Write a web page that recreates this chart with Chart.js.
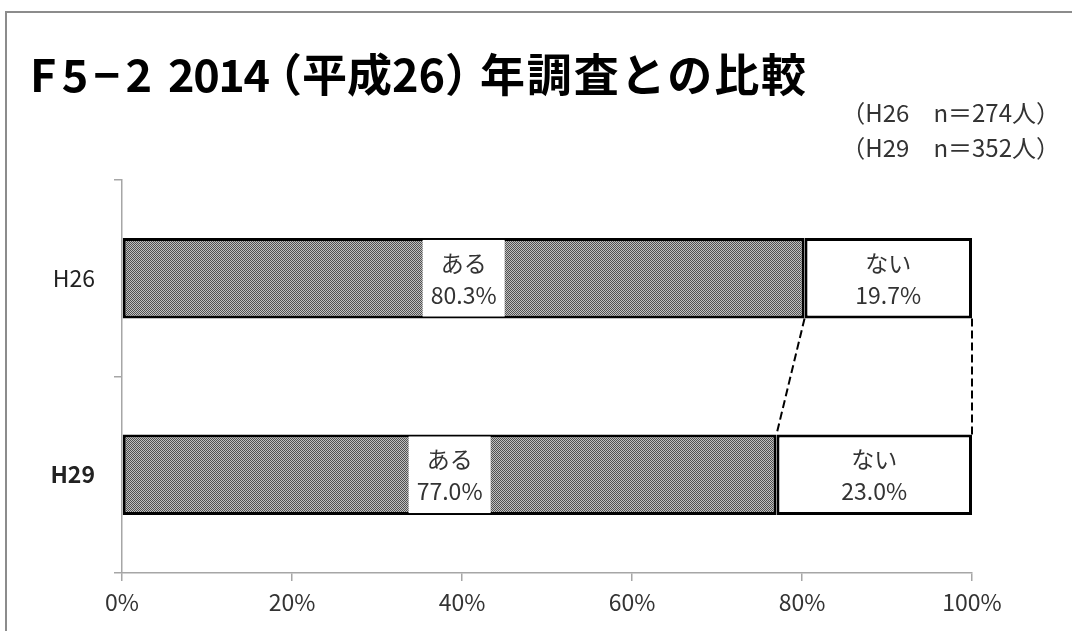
<!DOCTYPE html>
<html>
<head>
<meta charset="utf-8">
<script src="https://cdn.jsdelivr.net/npm/chart.js@4.4.0/dist/chart.umd.min.js"></script>
<style>
html,body{margin:0;padding:0;background:#fff;overflow:hidden}
</style>
</head>
<body>
<canvas id="cmpChart" width="1072" height="631"></canvas>
<script>
// survey years and answer shares (%)
const years = ["H26", "H29"]
const aruValues = [80.3, 77.0]
const naiValues = [19.7, 23.0]
const seriesNames = ["ある", "ない"]
const xTicks = [0, 20, 40, 60, 80, 100]
const titleParts = ["F5−2", "2014", "（平成26）", "年調査との比較"]
const sampleNotes = ["（H26　n＝274人）", "（H29　n＝352人）"]

const FONT = "'Noto Sans CJK JP', 'Noto Sans', sans-serif"
Chart.defaults.font.family = FONT

const canvas = document.getElementById("cmpChart")

// fine dotted fill for the "ある" bars
function dotPattern(){
  const c = document.createElement("canvas")
  c.width = 2
  c.height = 2
  const g = c.getContext("2d")
  g.fillStyle = "#c0c0c0"
  g.fillRect(0, 0, 2, 2)
  g.fillStyle = "#505050"
  g.fillRect(0, 0, 1, 1)
  g.fillRect(1, 1, 1, 1)
  return canvas.getContext("2d").createPattern(c, "repeat")
}

// fit a text run between x0 and x1
function fitText(ctx, text, x0, x1, y){
  const w = ctx.measureText(text).width
  const n = [...text].length
  ctx.letterSpacing = n > 1 ? ((x1 - x0 - w) / (n - 1)) + "px" : "0px"
  ctx.fillText(text, x0, y)
  ctx.letterSpacing = "0px"
}

// outer frame, title and sample sizes
const frame = {
  id: "frame",
  beforeDraw(chart){
    const ctx = chart.ctx
    ctx.save()
    ctx.strokeStyle = "#8c8c8c"
    ctx.lineWidth = 2
    ctx.strokeRect(6, 12, 1200, 800)

    ctx.fillStyle = "#000"
    ctx.font = "bold 45px " + FONT
    ctx.textAlign = "left"
    ctx.textBaseline = "alphabetic"
    fitText(ctx, titleParts[0], 30, 152, 92)
    fitText(ctx, titleParts[1], 168, 270, 92)
    ctx.fillText(titleParts[2], 257, 92)
    fitText(ctx, titleParts[3], 480, 806, 92)

    ctx.fillStyle = "#333"
    ctx.font = "24px " + FONT
    ctx.textAlign = "right"
    ctx.fillText(sampleNotes[0], 1060, 122)
    ctx.fillText(sampleNotes[1], 1060, 157)
    ctx.restore()
  }
}

// dashed connectors + labels inside bars
const barLabels = {
  id: "barLabels",
  afterDatasetsDraw(chart){
    const ctx = chart.ctx
    const m0 = chart.getDatasetMeta(0).data
    const m1 = chart.getDatasetMeta(1).data
    ctx.save()
    ctx.strokeStyle = "#000"
    ctx.lineWidth = 2
    ctx.setLineDash([8, 4])
    ;[m0, m1].forEach(m => {
      ctx.beginPath()
      ctx.moveTo(m[0].x, m[0].y + m[0].height / 2)
      ctx.lineTo(m[1].x, m[1].y - m[1].height / 2)
      ctx.stroke()
    })
    ctx.setLineDash([])

    ctx.font = "23px " + FONT
    ctx.textAlign = "center"
    ctx.textBaseline = "middle"
    chart.data.datasets.forEach((ds, di) => {
      chart.getDatasetMeta(di).data.forEach((bar, i) => {
        const cx = (bar.x + bar.base) / 2
        const cy = bar.y
        if (di === 0) {
          ctx.fillStyle = "#fff"
          ctx.fillRect(cx - 41, cy - bar.height / 2 + 2, 82, bar.height - 4)
        }
        ctx.fillStyle = "#333"
        ctx.fillText(seriesNames[di], cx, cy - 15)
        ctx.fillText(ds.data[i].toFixed(1) + "%", cx, cy + 17)
      })
    })
    ctx.restore()
  }
}

new Chart(canvas, {
  type: "bar",
  data: {
    labels: years,
    datasets: [
      {
        label: seriesNames[0],
        data: aruValues,
        backgroundColor: dotPattern(),
        borderColor: "#000",
        borderWidth: 3,
        borderSkipped: false
      },
      {
        label: seriesNames[1],
        data: naiValues,
        backgroundColor: "#fff",
        borderColor: "#000",
        borderWidth: 3,
        borderSkipped: false
      }
    ]
  },
  options: {
    indexAxis: "y",
    responsive: false,
    animation: false,
    barPercentage: 0.41,
    categoryPercentage: 1,
    layout: {
      padding: { top: 180, right: 100, left: 0, bottom: 0 }
    },
    plugins: {
      legend: { display: false },
      tooltip: { enabled: false }
    },
    scales: {
      x: {
        stacked: true,
        min: 0,
        max: 100,
        afterBuildTicks: s => { s.ticks = xTicks.map(v => ({ value: v })) },
        afterFit: s => { s.height = 58 },
        ticks: {
          callback: v => v + "%",
          color: "#333",
          font: { size: 23 },
          padding: 7
        },
        grid: {
          drawOnChartArea: false,
          tickLength: 8,
          color: "#a6a6a6",
          lineWidth: 1.5
        },
        border: { color: "#a6a6a6", width: 1.5 }
      },
      y: {
        stacked: true,
        afterFit: s => { s.width = 122 },
        ticks: {
          color: "#222",
          padding: 19,
          font: c => ({ size: 23, weight: c.index === 1 ? "bold" : "normal" })
        },
        grid: {
          drawOnChartArea: false,
          offset: true,
          tickLength: 8,
          color: "#a6a6a6",
          lineWidth: 1.5
        },
        border: { color: "#a6a6a6", width: 1.5 }
      }
    }
  },
  plugins: [frame, barLabels]
})
</script>
</body>
</html>
